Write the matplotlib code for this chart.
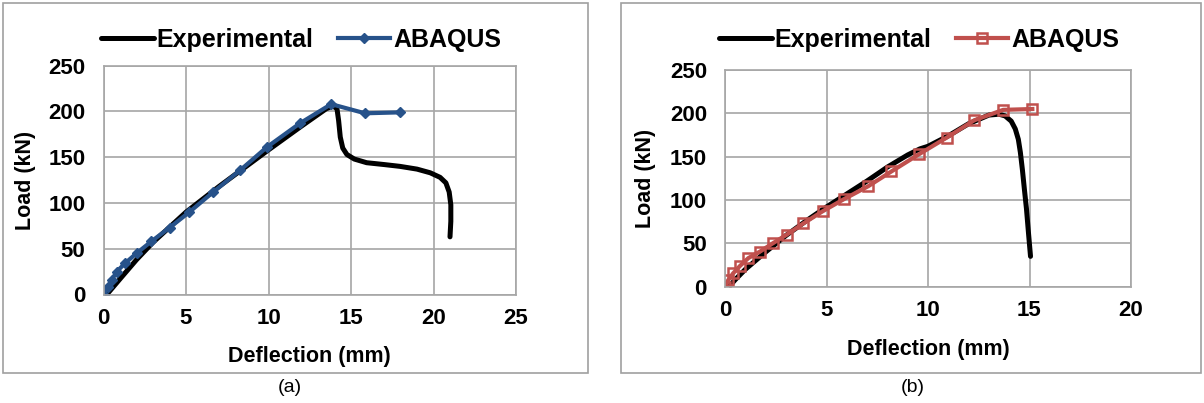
import matplotlib
matplotlib.use("Agg")
import matplotlib.pyplot as plt
from matplotlib.patches import Rectangle

plt.rcParams['font.family'] = ['Liberation Sans', 'DejaVu Sans']

# ---- Panel (a) data ----
a_exp_x = [0.2, 1.0, 2.0, 3.0, 5.0, 7.0, 10.0, 12.0, 13.5, 13.9, 14.15, 14.25, 14.35, 14.5, 14.75, 15.2, 15.95, 17.0, 17.97, 19.0, 19.8, 20.4, 20.75, 20.95, 21.05, 21.05, 21.0]
a_exp_y = [0, 17, 38, 57, 90, 118, 158, 184, 203, 206, 203, 190, 172, 160, 153, 148, 144, 142, 140, 137, 133, 128, 122, 112, 98, 80, 63]
a_aba_x = [0, 0.3, 0.5, 0.8, 1.3, 2.0, 2.9, 4.0, 5.2, 6.65, 8.3, 9.9, 11.9, 13.8, 15.85, 17.95]
a_aba_y = [0, 8.5, 16, 25, 34, 45, 58, 73, 90, 112, 136, 161, 187, 208, 198, 199]

# ---- Panel (b) data ----
b_exp_x = [0.2, 0.5, 1, 2, 3, 4, 5, 6, 7, 8, 9, 9.6, 10, 11, 12, 13, 13.5, 13.8, 14.1, 14.3, 14.45, 14.55, 14.65, 14.75, 14.85, 14.95, 15.05]
b_exp_y = [0, 8, 20, 40, 59, 76, 92, 107, 122, 138, 152, 159, 162, 174, 188, 198, 199, 197, 191, 182, 170, 155, 135, 112, 90, 62, 35]
b_aba_x = [0, 0.16, 0.4, 0.74, 1.15, 1.72, 2.35, 3.04, 3.86, 4.81, 5.86, 7.06, 8.2, 9.57, 10.92, 12.28, 13.7, 15.14]
b_aba_y = [0, 7.7, 15.4, 24, 33, 40.5, 50, 60, 73, 87, 101, 116, 133, 153, 172, 192, 204, 205]

a_xticks = [0, 5, 10, 15, 20, 25]
b_xticks = [0, 5, 10, 15, 20]
yticks = [0, 50, 100, 150, 200, 250]

BLUE = '#27528A'
RED = '#C0504D'
GRID = '#A6A6A6'
TICK_FS = 16
LAB_FS = 15.5
LEG_FS = 18

fig = plt.figure(figsize=(12.04, 4.03), dpi=100)

# outer frames
for (l, w) in [(3 / 1204, 585 / 1204), (621 / 1204, 580 / 1204)]:
    fig.patches.append(Rectangle((l, 30 / 403), w, 370 / 403, transform=fig.transFigure,
                                 fill=False, edgecolor='#A0A0A0', linewidth=1.2))

def style(ax, xticks, xmax, xpad, ypad):
    ax.set_xlim(0, xmax)
    ax.set_ylim(0, 250)
    ax.set_xticks(xticks)
    ax.set_yticks(yticks)
    ax.grid(True, color=GRID, linewidth=1.2)
    ax.set_axisbelow(True)
    for s in ax.spines.values():
        s.set_color(GRID)
        s.set_linewidth(1.2)
    ax.tick_params(axis='x', length=0, labelsize=TICK_FS, pad=xpad)
    ax.tick_params(axis='y', length=0, labelsize=TICK_FS, pad=ypad)
    for lab in ax.get_xticklabels() + ax.get_yticklabels():
        lab.set_fontweight('bold')
    ax.set_xlabel('Deflection (mm)', fontsize=LAB_FS, fontweight='bold', va='center')
    ax.set_ylabel('Load (kN)', fontsize=LAB_FS, fontweight='bold', va='center')

def legend(handles, cx):
    fig.legend(handles=handles, loc='center', bbox_to_anchor=(cx / 1204, 1 - 40 / 403), ncol=2,
               frameon=False, prop={'size': LEG_FS, 'weight': 'bold'}, handlelength=2.1,
               handletextpad=0.1, columnspacing=1.0, borderpad=0, borderaxespad=0)

# Panel (a)
axa = fig.add_axes([103.5 / 1204, (403 - 294.5) / 403, 412.5 / 1204, 228.8 / 403])
l1, = axa.plot(a_exp_x, a_exp_y, color='black', linewidth=3.6, solid_capstyle='round',
               solid_joinstyle='round', label='Experimental')
l2, = axa.plot(a_aba_x, a_aba_y, color=BLUE, linewidth=3.0, marker='D', markersize=5,
               label='ABAQUS')
style(axa, a_xticks, 25, 10, 13)
axa.yaxis.set_label_coords(-0.19, 0.5)
axa.xaxis.set_label_coords(0.5, -0.269)
legend([l1, l2], 301)
fig.text(290 / 1204, 1 - 388 / 403, '(a)', ha='center', va='center', fontsize=14)

# Panel (b)
axb = fig.add_axes([725 / 1204, (403 - 286.7) / 403, 406 / 1204, 216.7 / 403])
m1, = axb.plot(b_exp_x, b_exp_y, color='black', linewidth=3.6, solid_capstyle='round',
               solid_joinstyle='round', label='Experimental')
m2, = axb.plot(b_aba_x, b_aba_y, color=RED, linewidth=3.0, marker='s', markersize=7,
               markerfacecolor='none', markeredgecolor=RED, markeredgewidth=1.8, label='ABAQUS')
style(axb, b_xticks, 20, 9.5, 13)
axb.yaxis.set_label_coords(-0.195, 0.5)
axb.xaxis.set_label_coords(0.5, -0.292)
legend([m1, m2], 919)
fig.text(913 / 1204, 1 - 388 / 403, '(b)', ha='center', va='center', fontsize=14)

fig.savefig('out.png', dpi=100, facecolor='white')
